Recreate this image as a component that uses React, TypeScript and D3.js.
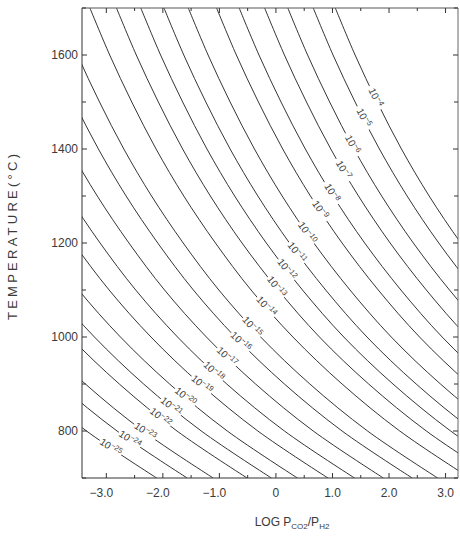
import React from 'react';
import * as d3 from 'd3';

// temperature grid (°C) at which each contour was read
const temps = [1700, 1600, 1500, 1400, 1300, 1200, 1100, 1000, 900, 800, 700];

// P(O2) of each contour, as power of ten
const exponents = [-4, -5, -6, -7, -8, -9, -10, -11, -12, -13, -14, -15, -16, -17, -18, -19, -20, -21, -22, -23, -24, -25];

// log PCO2/PH2 of each contour at the temps above
const contourX = [
  [1.05, 1.40, 1.79, 2.22, 2.71, 3.27, 3.91, 4.64, 5.51, 6.53, 7.77],
  [0.66, 1.01, 1.40, 1.83, 2.32, 2.88, 3.52, 4.25, 5.12, 6.14, 7.38],
  [0.21, 0.56, 0.95, 1.38, 1.87, 2.43, 3.07, 3.80, 4.67, 5.69, 6.93],
  [-0.20, 0.15, 0.54, 0.97, 1.46, 2.02, 2.66, 3.39, 4.26, 5.28, 6.52],
  [-0.65, -0.30, 0.09, 0.52, 1.01, 1.57, 2.21, 2.94, 3.81, 4.83, 6.07],
  [-1.05, -0.70, -0.31, 0.12, 0.61, 1.17, 1.81, 2.54, 3.41, 4.43, 5.67],
  [-1.55, -1.20, -0.81, -0.38, 0.11, 0.67, 1.31, 2.04, 2.91, 3.93, 5.17],
  [-1.98, -1.63, -1.24, -0.81, -0.32, 0.24, 0.88, 1.61, 2.48, 3.50, 4.74],
  [-2.39, -2.04, -1.65, -1.22, -0.73, -0.17, 0.47, 1.20, 2.07, 3.09, 4.33],
  [-2.82, -2.47, -2.08, -1.65, -1.16, -0.60, 0.04, 0.77, 1.64, 2.66, 3.90],
  [-3.29, -2.94, -2.55, -2.12, -1.63, -1.07, -0.44, 0.30, 1.17, 2.19, 3.43],
  [-3.86, -3.51, -3.12, -2.69, -2.20, -1.64, -1.01, -0.27, 0.60, 1.62, 2.86],
  [-4.31, -3.96, -3.57, -3.14, -2.65, -2.09, -1.46, -0.72, 0.15, 1.17, 2.41],
  [-4.82, -4.47, -4.08, -3.65, -3.16, -2.60, -1.97, -1.23, -0.36, 0.66, 1.90],
  [-5.33, -4.98, -4.59, -4.16, -3.67, -3.11, -2.48, -1.74, -0.87, 0.15, 1.39],
  [-5.80, -5.45, -5.06, -4.63, -4.14, -3.58, -2.95, -2.21, -1.34, -0.32, 0.92],
  [-6.34, -5.99, -5.60, -5.17, -4.68, -4.12, -3.49, -2.75, -1.88, -0.86, 0.38],
  [-6.80, -6.45, -6.06, -5.63, -5.14, -4.58, -3.95, -3.21, -2.34, -1.32, -0.08],
  [-7.23, -6.88, -6.49, -6.06, -5.57, -5.01, -4.38, -3.64, -2.77, -1.75, -0.51],
  [-7.83, -7.48, -7.09, -6.66, -6.17, -5.61, -4.98, -4.24, -3.37, -2.35, -1.11],
  [-8.29, -7.94, -7.55, -7.12, -6.63, -6.07, -5.44, -4.70, -3.83, -2.81, -1.57],
  [-8.83, -8.48, -8.09, -7.66, -7.17, -6.61, -5.98, -5.24, -4.37, -3.35, -2.11],
];

// where the inline labels sit on each contour
const labelX = [1.75, 1.54, 1.34, 1.18, 0.98, 0.77, 0.54, 0.36, 0.18, 0.0, -0.18, -0.43, -0.63, -0.875, -1.11, -1.32, -1.61, -1.86, -2.05, -2.32, -2.59, -2.93];
const labelT = [1509, 1466, 1409, 1355, 1306, 1270, 1221, 1179, 1143, 1106, 1064, 1021, 989, 957, 926, 898, 872, 851, 828, 798, 781, 764];

const yTicks = [800, 1000, 1200, 1400, 1600];
const yMinor = [700, 900, 1100, 1300, 1500, 1700];
const xTicks = [-3, -2, -1, 0, 1, 2, 3];
const xTickLabels = ['−3.0', '−2.0', '−1.0', '0', '1.0', '2.0', '3.0'];
const xMinor = [-2.5, -1.5, -0.5, 0.5, 1.5, 2.5];

const W = 460, H = 537;
const margin = { top: 8, right: 2, bottom: 59, left: 82 };
const FONT = '"Liberation Sans", Arial, sans-serif';
const INK = '#3a3a3a';

export default function App() {
  const left = margin.left, right = W - margin.right;
  const top = margin.top, bottom = H - margin.bottom;

  const x = d3.scaleLinear().domain([-3.43, 3.22]).range([left, right]);
  const y = d3.scaleLinear().domain([700, 1700]).range([bottom, top]);

  const line = d3.line<[number, number]>()
    .x(d => x(d[0]))
    .y(d => y(d[1]))
    .curve(d3.curveCatmullRom);

  // label angle follows the contour between the two grid temps around it
  const labelAngle = (k: number) => {
    let i = temps.findIndex(t => t <= labelT[k]);
    if (i < 1) i = 1;
    const dx = x(contourX[k][i]) - x(contourX[k][i - 1]);
    const dy = y(temps[i]) - y(temps[i - 1]);
    return Math.atan2(dy, dx) * 180 / Math.PI;
  };

  return (
    <svg width={W} height={H} style={{ position: 'absolute', left: 0, top: 0, background: '#fff' }}>
      <defs>
        <clipPath id="plot">
          <rect x={left} y={top} width={right - left} height={bottom - top} />
        </clipPath>
      </defs>

      {/* contours */}
      <g clipPath="url(#plot)" fill="none" stroke="#1e1e1e" strokeWidth={0.9}>
        {contourX.map((xs, k) => (
          <path key={k} d={line(temps.map((t, i) => [xs[i], t] as [number, number])) || ''} />
        ))}
      </g>

      {/* inline labels */}
      <g fontFamily={FONT} fill={INK}>
        {exponents.map((e, k) => (
          <g key={k} transform={`translate(${x(labelX[k])},${y(labelT[k])}) rotate(${labelAngle(k)})`}>
            <rect x={-13} y={-6} width={26} height={12} fill="#fff" />
            <text textAnchor="middle" dominantBaseline="middle" fontSize={10}>
              10<tspan fontSize={7.5} dy={-3}>{`−${-e}`}</tspan>
            </text>
          </g>
        ))}
      </g>

      {/* frame */}
      <g stroke="#333" strokeWidth={1} fill="none">
        <line x1={left} x2={left} y1={top} y2={bottom} />
        <line x1={left} x2={right} y1={bottom} y2={bottom} />
        <line x1={left} x2={right} y1={top} y2={top} stroke="#555" />
        <line x1={right} x2={right} y1={top} y2={bottom} stroke="#666" />
      </g>

      {/* ticks, pointing inward */}
      <g stroke="#333" strokeWidth={1}>
        {yTicks.map(t => (
          <g key={t}>
            <line x1={left} x2={left + 5} y1={y(t)} y2={y(t)} />
            <line x1={right} x2={right - 5} y1={y(t)} y2={y(t)} />
          </g>
        ))}
        {yMinor.map(t => (
          <g key={t}>
            <line x1={left} x2={left + 4} y1={y(t)} y2={y(t)} />
            <line x1={right} x2={right - 4} y1={y(t)} y2={y(t)} />
          </g>
        ))}
        {xTicks.map(t => (
          <g key={t}>
            <line x1={x(t)} x2={x(t)} y1={bottom} y2={bottom - 5} />
            <line x1={x(t)} x2={x(t)} y1={top} y2={top + 5} />
          </g>
        ))}
        {xMinor.map(t => (
          <g key={t}>
            <line x1={x(t)} x2={x(t)} y1={bottom} y2={bottom - 3} />
            <line x1={x(t)} x2={x(t)} y1={top} y2={top + 3} />
          </g>
        ))}
      </g>

      {/* tick labels */}
      <g fontFamily={FONT} fontSize={12} fill={INK}>
        {yTicks.map(t => (
          <text key={t} x={left - 4} y={y(t) + 1} textAnchor="end" dominantBaseline="middle">{t}</text>
        ))}
        {xTicks.map((t, i) => (
          <text key={t} x={x(t) + (t < 0 ? -5 : 0)} y={bottom + 19} textAnchor="middle">{xTickLabels[i]}</text>
        ))}
      </g>

      {/* axis titles */}
      <text
        transform={`translate(17,${(top + bottom) / 2 - 6}) rotate(-90)`}
        textAnchor="middle"
        fontFamily={FONT}
        fontSize={13}
        fill={INK}
        textLength={166}
        lengthAdjust="spacing"
      >
        TEMPERATURE(°C)
      </text>
      <text x={292} y={H - 11} textAnchor="middle" fontFamily={FONT} fontSize={12} fill={INK}>
        LOG P<tspan fontSize={8} dy={3}>CO2</tspan><tspan dy={-3}>/P</tspan><tspan fontSize={8} dy={3}>H2</tspan>
      </text>
    </svg>
  );
}
